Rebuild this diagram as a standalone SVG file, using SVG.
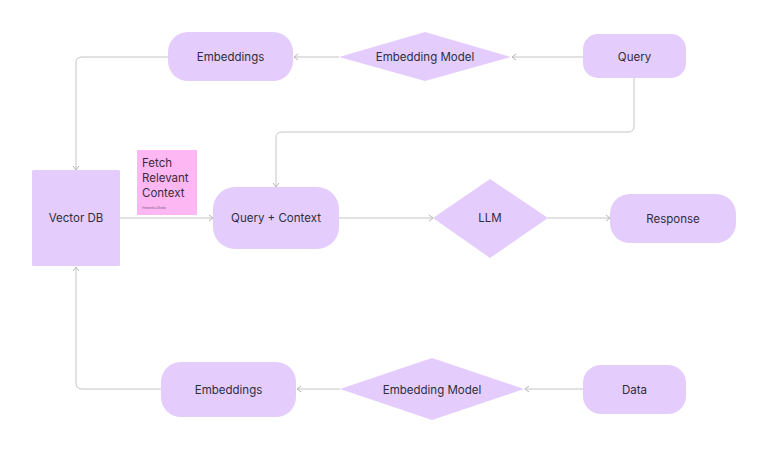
<svg xmlns="http://www.w3.org/2000/svg" width="768" height="453" viewBox="0 0 768 453">
<defs>
<marker id="arr" markerWidth="8" markerHeight="8" refX="6" refY="4" orient="auto" markerUnits="userSpaceOnUse">
<path d="M2,1 L6,4 L2,7" fill="none" stroke="#b8b8b8" stroke-width="1"/>
</marker>
</defs>
<style>
.n{fill:#e4cdfd}
.t{font-family:Inter,"Liberation Sans",sans-serif;font-size:11.5px;fill:#2e2e3a;text-anchor:middle;dominant-baseline:central}
.c{fill:none;stroke:#c4c4c4;stroke-width:1;marker-end:url(#arr)}
.s{font-family:Inter,"Liberation Sans",sans-serif;font-size:11.5px;fill:#3a2a3a}
</style>
<rect width="768" height="453" fill="#ffffff"/>
<g id="connectors">
<path class="c" d="M583,57 H512"/>
<path class="c" d="M339,57 H294"/>
<path class="c" d="M168,57 H82 Q76,57 76,63 V170"/>
<path class="c" d="M634,78 V126 Q634,132 628,132 H282 Q276,132 276,138 V187"/>
<path class="c" d="M120,218 H213"/>
<path class="c" d="M339,218 H433"/>
<path class="c" d="M548,218 H610"/>
<path class="c" d="M583,389 H525"/>
<path class="c" d="M340,389 H297"/>
<path class="c" d="M161,389 H82 Q76,389 76,383 V267"/>
</g>
<g id="embeddings-top"><rect class="n" x="168" y="32" width="125" height="49" rx="20"/><text class="t" x="230.5" y="57">Embeddings</text></g>
<g id="embedding-model-top"><polygon class="n" points="339,57 425,32 511,57 425,81"/><text class="t" x="425" y="57">Embedding Model</text></g>
<g id="query"><rect class="n" x="583" y="34" width="103" height="44" rx="15"/><text class="t" x="634.5" y="57">Query</text></g>
<g id="vector-db"><rect class="n" x="32" y="170" width="88" height="96" rx="1.5"/><text class="t" x="76" y="218">Vector DB</text></g>
<g id="note"><rect x="137" y="150" width="60" height="65" fill="#fdb8f4"/><text class="s" x="142" y="167">Fetch</text><text class="s" x="142" y="182">Relevant</text><text class="s" x="142" y="197">Context</text><text x="142" y="209" font-family="Inter,'Liberation Sans',sans-serif" font-size="3" fill="#7a5a7a">Himanshu Dhaka</text></g>
<g id="query-context"><rect class="n" x="213" y="187" width="126" height="62" rx="22"/><text class="t" x="276" y="218">Query + Context</text></g>
<g id="llm"><polygon class="n" points="433,218 490,179 548,218 490,258"/><text class="t" x="490" y="218">LLM</text></g>
<g id="response"><rect class="n" x="610" y="194" width="126" height="49" rx="20"/><text class="t" x="673" y="218.5">Response</text></g>
<g id="embeddings-bottom"><rect class="n" x="161" y="362" width="135" height="55" rx="20"/><text class="t" x="228.5" y="389.5">Embeddings</text></g>
<g id="embedding-model-bottom"><polygon class="n" points="340,389 432,358 524,389 432,420"/><text class="t" x="432" y="389.5">Embedding Model</text></g>
<g id="data"><rect class="n" x="583" y="365" width="103" height="49" rx="18"/><text class="t" x="634.5" y="389.5">Data</text></g>
</svg>
